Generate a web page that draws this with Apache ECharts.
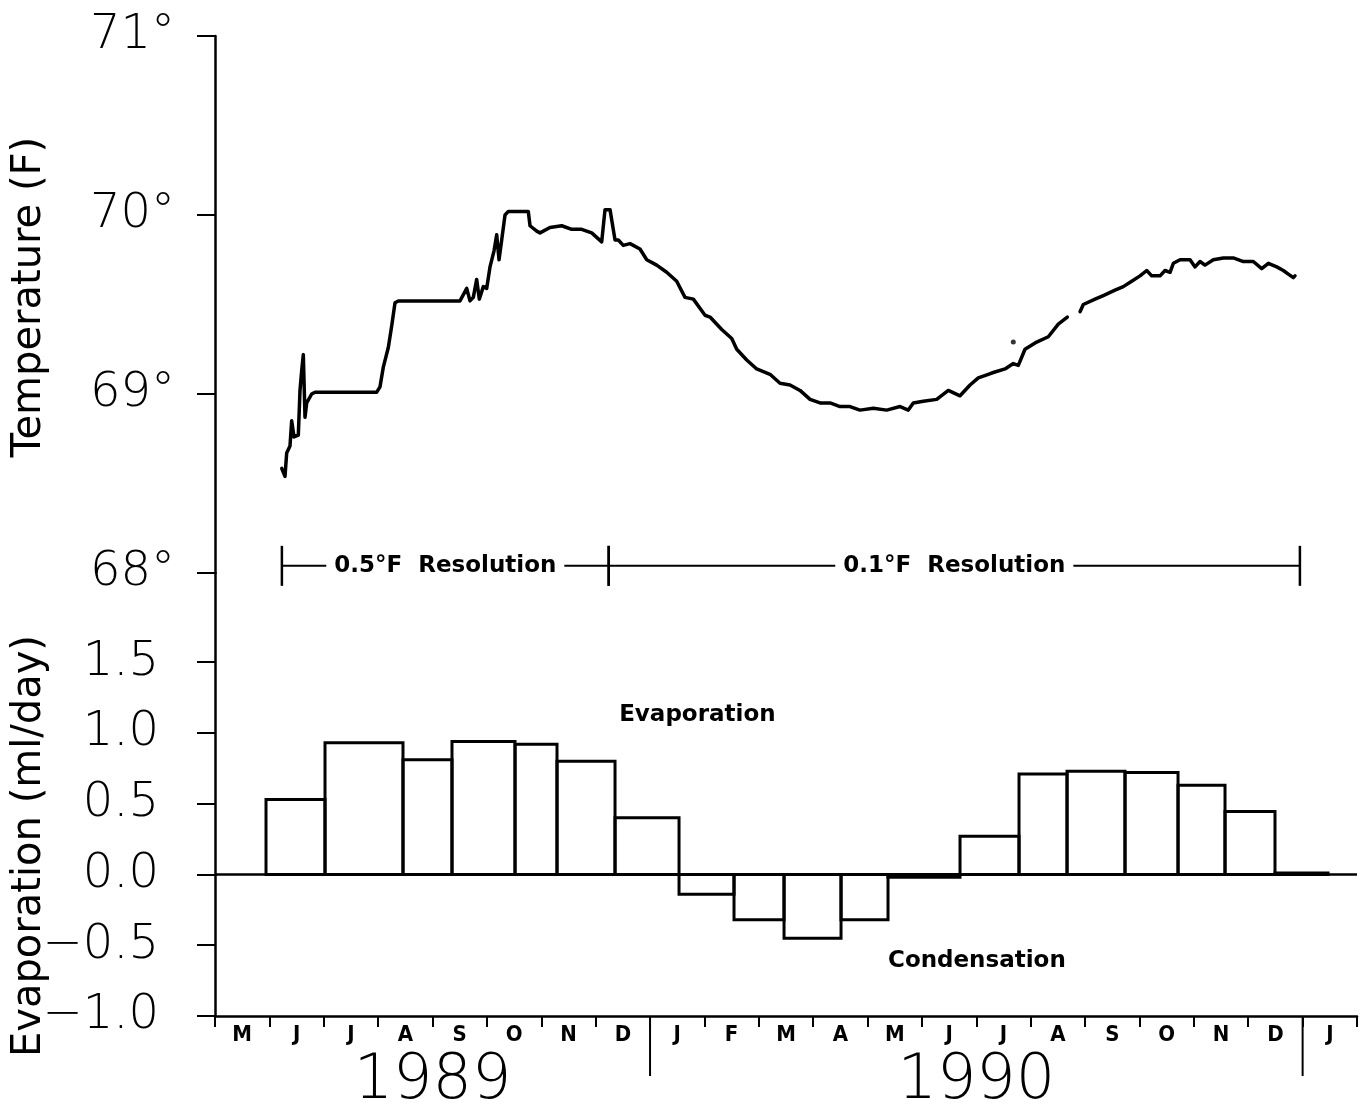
<!DOCTYPE html>
<html><head><meta charset="utf-8">
<script src="https://cdn.jsdelivr.net/npm/echarts@6/dist/echarts.min.js"></script>
<style>html,body{margin:0;padding:0;background:#fff}#chart{width:1364px;height:1111px}</style>
</head><body><div id="chart"></div>
<script>
// ---- data ----
const monthLabels = ['M','J','J','A','S','O','N','D','J','F','M','A','M','J','J','A','S','O','N','D','J'];
const yearLabels = ['1989', '1990'];
const yearSpans = [[0, 8], [8, 20]];
const yearBoundaries = [8, 20];
const tempTicks = [68, 69, 70, 71];
const evapTicks = [-1, -0.5, 0, 0.5, 1, 1.5];

// months since 1 May 1989, temperature in deg F ; null = gap in the record
const temperature = [
  [1.227,68.585],[1.287,68.54],[1.318,68.67],[1.379,68.71],[1.410,68.85],[1.453,68.76],
  [1.532,68.77],[1.563,69.02],[1.594,69.13],[1.624,69.22],[1.655,68.87],[1.686,68.95],
  [1.778,69.00],[1.839,69.01],[2.974,69.01],[3.034,69.04],[3.095,69.15],[3.187,69.26],
  [3.249,69.38],[3.310,69.51],[3.371,69.52],[4.505,69.52],[4.537,69.53],[4.629,69.59],
  [4.689,69.52],[4.750,69.54],[4.812,69.64],[4.860,69.53],[4.934,69.60],[4.996,69.59],
  [5.057,69.71],[5.131,69.80],[5.180,69.89],[5.223,69.75],[5.272,69.86],[5.333,70.00],
  [5.394,70.02],[5.761,70.02],[5.793,69.94],[5.916,69.91],[5.977,69.90],[6.160,69.93],
  [6.376,69.94],[6.560,69.92],[6.743,69.92],[6.927,69.90],[7.111,69.85],[7.172,70.03],
  [7.264,70.03],[7.356,69.86],[7.416,69.86],[7.508,69.83],[7.631,69.84],[7.815,69.81],
  [7.939,69.75],[8.122,69.72],[8.306,69.68],[8.490,69.63],[8.643,69.54],[8.796,69.53],
  [9.011,69.44],[9.103,69.43],[9.318,69.36],[9.502,69.31],[9.594,69.25],[9.778,69.19],
  [9.961,69.14],[10.206,69.11],[10.390,69.06],[10.574,69.05],[10.758,69.02],[10.942,68.97],
  [11.126,68.95],[11.310,68.95],[11.493,68.93],[11.677,68.93],[11.861,68.91],[12.106,68.92],
  [12.352,68.91],[12.597,68.93],[12.749,68.91],[12.841,68.95],[13.025,68.96],[13.271,68.97],
  [13.485,69.02],[13.700,68.99],[13.884,69.05],[14.036,69.09],[14.220,69.11],[14.312,69.12],
  [14.528,69.14],[14.680,69.17],[14.772,69.16],[14.895,69.25],[15.110,69.29],[15.324,69.32],
  [15.507,69.39],[15.673,69.43],
  null,
  [15.907,69.46],[15.967,69.50],[16.183,69.53],[16.335,69.55],[16.550,69.58],[16.703,69.60],
  [16.857,69.63],[17.010,69.66],[17.133,69.69],[17.225,69.66],[17.378,69.66],[17.470,69.69],
  [17.562,69.68],[17.623,69.73],[17.746,69.75],[17.930,69.75],[18.022,69.71],[18.113,69.74],
  [18.205,69.72],[18.358,69.75],[18.542,69.76],[18.726,69.76],[18.910,69.74],[19.093,69.74],
  [19.248,69.70],[19.370,69.73],[19.524,69.71],[19.645,69.69],[19.737,69.67],[19.829,69.65],
  [19.860,69.66]
];
const strayReading = [[14.68, 69.29]];

// evaporation intervals: edges (months since 1 May 1989) and rate (ml/day)
const evapEdges = [0.938, 2.023, 3.457, 4.358, 5.517, 6.289, 7.356, 8.533, 9.544, 10.464,
  11.512, 12.376, 13.700, 14.785, 15.668, 16.734, 17.709, 18.573, 19.492, 20.467];
const evapValues = [0.53, 0.93, 0.81, 0.94, 0.92, 0.80, 0.40, -0.14, -0.32, -0.45,
  -0.32, -0.02, 0.27, 0.71, 0.73, 0.72, 0.63, 0.445, 0.01];

const resolutionBreaks = [1.23, 7.24, 19.95];
const resolutionLabels = ['0.5°F  Resolution', '0.1°F  Resolution'];
const resolutionLevel = 68.04;

const noteLabels = ['Evaporation', 'Condensation'];
const notePositions = [[8.87, 1.13], [14.01, -0.61]];

// ---- build ----
const MONTHS = monthLabels.length;
const FONT = "'DejaVu Sans', 'Noto Sans', sans-serif";
const segs = [[]];
temperature.forEach(p => { if (p === null) segs.push([]); else segs[segs.length - 1].push(p); });

const barData = evapValues.map((v, i) => [evapEdges[i], evapEdges[i + 1], v]);
const resData = resolutionBreaks.slice(0, -1).map((b, i) => [b, resolutionBreaks[i + 1]]);

const chart = echarts.init(document.getElementById('chart'), null, {renderer: 'canvas'});
const fmtEvap = v => (v < 0 ? '\u2212' : '') + Math.abs(v).toFixed(1);

const option = {
  animation: false,
  backgroundColor: '#fff',
  grid: [
    {left: 215, right: 7, top: 36, height: 537},
    {left: 215, right: 7, top: 573, height: 443}
  ],
  xAxis: [
    {gridIndex: 0, type: 'value', min: 0, max: MONTHS, show: false},
    {gridIndex: 1, type: 'value', min: 0, max: MONTHS, show: false, position: 'top'},
    {gridIndex: 1, type: 'category', data: monthLabels, boundaryGap: true, position: 'bottom',
      axisLine: {onZero: false, lineStyle: {color: '#000', width: 2.5}},
      axisTick: {show: true, interval: 0, length: 11, lineStyle: {color: '#000', width: 2}},
      axisLabel: {interval: 0, margin: 8, color: '#000', fontSize: 22, fontWeight: 'bold',
        fontFamily: "'DejaVu Sans Condensed', 'DejaVu Sans', sans-serif"},
      splitLine: {show: false}}
  ],
  yAxis: [
    {gridIndex: 0, type: 'value', min: tempTicks[0], max: tempTicks[tempTicks.length - 1], interval: 1,
      axisLine: {show: true, onZero: false, lineStyle: {color: '#000', width: 2.5}},
      axisTick: {show: true, length: 18, lineStyle: {color: '#000', width: 2}},
      axisLabel: {margin: 40, color: '#000', fontSize: 48, fontWeight: 200, fontFamily: FONT,
        formatter: v => v + '°'},
      splitLine: {show: false}},
    {gridIndex: 1, type: 'value', min: -1, max: 2.13, interval: 0.5,
      axisLine: {show: true, onZero: false, lineStyle: {color: '#000', width: 2.5}},
      axisTick: {show: true, length: 18, customValues: evapTicks, lineStyle: {color: '#000', width: 2}},
      axisLabel: {margin: 56, color: '#000', fontSize: 48, fontWeight: 200, fontFamily: FONT,
        customValues: evapTicks, formatter: fmtEvap},
      splitLine: {show: false}}
  ],
  graphic: [
    {type: 'text', x: 30, y: 297, rotation: Math.PI / 2,
      style: {text: 'Temperature (F)', fontSize: 40, fontFamily: FONT, fill: '#000', align: 'center', verticalAlign: 'middle'}},
    {type: 'text', x: 30, y: 846, rotation: Math.PI / 2,
      style: {text: 'Evaporation (ml/day)', fontSize: 40, fontFamily: FONT, fill: '#000', align: 'center', verticalAlign: 'middle'}}
  ],
  series: [
    ...segs.map(s => ({
      type: 'line', xAxisIndex: 0, yAxisIndex: 0, data: s, showSymbol: false, smooth: false,
      lineStyle: {color: '#000', width: 3.5, join: 'round', cap: 'round'}, z: 5
    })),
    {type: 'scatter', xAxisIndex: 0, yAxisIndex: 0, data: strayReading, symbolSize: 5,
      itemStyle: {color: '#000'}},
    {type: 'custom', xAxisIndex: 0, yAxisIndex: 0, data: resData, clip: false,
      renderItem: (params, api) => {
        const a = api.coord([api.value(0), resolutionLevel]);
        const b = api.coord([api.value(1), resolutionLevel]);
        const y = a[1];
        return {type: 'group', children: [
          {type: 'line', shape: {x1: a[0], y1: y, x2: b[0], y2: y}, style: {stroke: '#000', lineWidth: 2}},
          {type: 'line', shape: {x1: a[0], y1: y - 20, x2: a[0], y2: y + 20}, style: {stroke: '#000', lineWidth: 2.5}},
          {type: 'line', shape: {x1: b[0], y1: y - 20, x2: b[0], y2: y + 20}, style: {stroke: '#000', lineWidth: 2.5}},
          {type: 'text', style: {text: resolutionLabels[params.dataIndex], x: (a[0] + b[0]) / 2, y: y,
            align: 'center', verticalAlign: 'middle', fontSize: 23, fontWeight: 'bold', fontFamily: FONT,
            fill: '#000', backgroundColor: '#fff', padding: [2, 8]}}
        ]};
      }},
    {type: 'custom', xAxisIndex: 1, yAxisIndex: 1, data: barData, clip: false,
      encode: {x: [0, 1], y: 2},
      renderItem: (params, api) => {
        const p0 = api.coord([api.value(0), 0]);
        const p1 = api.coord([api.value(1), api.value(2)]);
        return {type: 'rect',
          shape: {x: p0[0], y: Math.min(p0[1], p1[1]), width: p1[0] - p0[0], height: Math.max(Math.abs(p1[1] - p0[1]), 0.5)},
          style: {fill: 'none', stroke: '#000', lineWidth: 3}};
      },
      markLine: {silent: true, symbol: 'none', label: {show: false},
        lineStyle: {color: '#000', width: 2.5, type: 'solid'}, data: [{yAxis: 0}]}},
    {type: 'custom', xAxisIndex: 1, yAxisIndex: 1, data: notePositions, clip: false,
      renderItem: (params, api) => {
        const p = api.coord([api.value(0), api.value(1)]);
        return {type: 'text', style: {text: noteLabels[params.dataIndex], x: p[0], y: p[1],
          align: 'center', verticalAlign: 'middle', fontSize: 23, fontWeight: 'bold', fontFamily: FONT, fill: '#000'}};
      }},
    {type: 'custom', xAxisIndex: 1, yAxisIndex: 1, data: yearBoundaries.map(b => [b, -1]), clip: false,
      renderItem: (params, api) => {
        const p = api.coord([api.value(0), api.value(1)]);
        return {type: 'line', shape: {x1: p[0], y1: p[1], x2: p[0], y2: p[1] + 60},
          style: {stroke: '#000', lineWidth: 2}};
      }},
    {type: 'custom', xAxisIndex: 1, yAxisIndex: 1, data: yearSpans.map(s => [(s[0] + s[1]) / 2, -1]), clip: false,
      renderItem: (params, api) => {
        const p = api.coord([api.value(0), api.value(1)]);
        return {type: 'text', style: {text: yearLabels[params.dataIndex], x: p[0], y: p[1] + 66,
          align: 'center', verticalAlign: 'middle', fontSize: 62, fontWeight: 200, fontFamily: FONT, fill: '#000'}};
      }}
  ]
};
chart.setOption(option);
</script>
</body></html>
